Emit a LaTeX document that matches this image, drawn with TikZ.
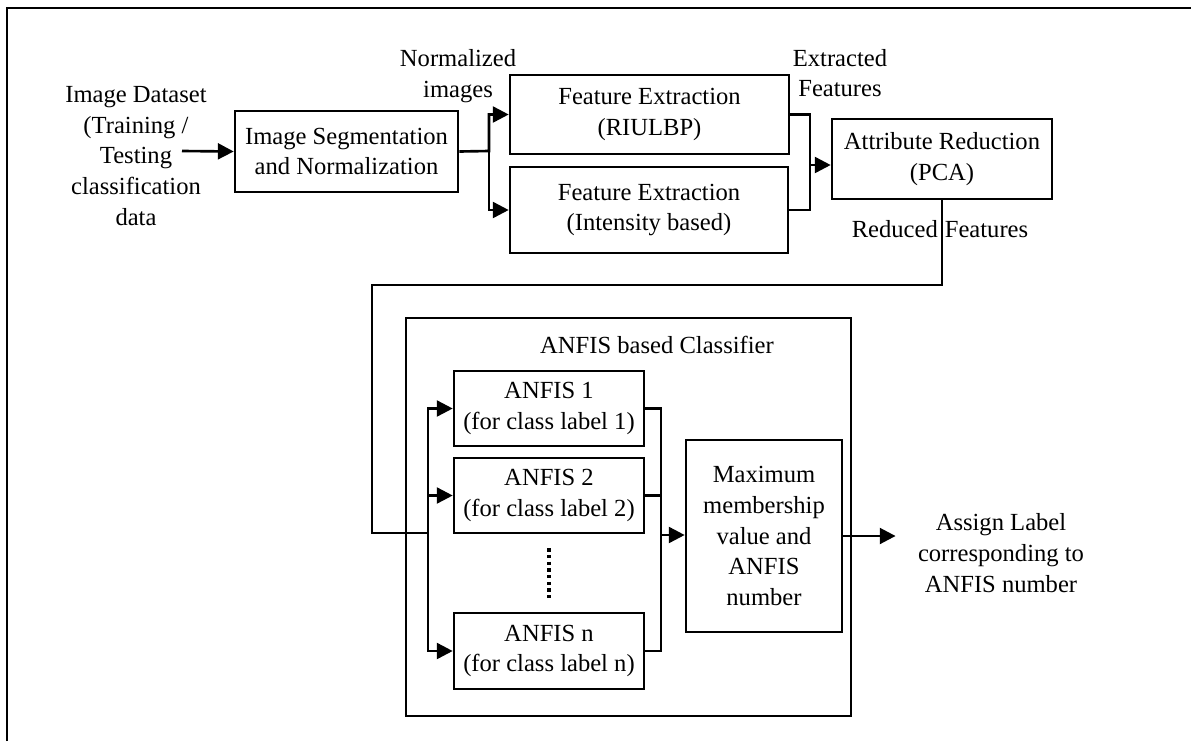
\documentclass[tikz,border=0pt]{standalone}
\usepackage{fontspec}
\setmainfont{Liberation Serif}
\usetikzlibrary{arrows.meta,positioning}

\begin{document}
\begin{tikzpicture}[x=0.02cm, y=-0.02cm, line width=1.5pt,
		font=\fontsize{14}{17.5}\selectfont,
		block/.style={draw, align=center, inner sep=0pt},
		lbl/.style={align=center, inner sep=2pt},
		arr/.style={-{Triangle[length=9pt,width=9pt]}}]
	\useasboundingbox (0,0) rectangle (1191,741);
	\draw[line width=1.6pt] (7,741) -- (7,8) -- (1191,8);
	% upper row
	\node[lbl] (data) at (136,156) {Image Dataset\\(Training /\\Testing\\classification\\data};
	\node[block, minimum width=4.46cm, minimum height=1.62cm] (seg) at (346.5,151.5) {Image Segmentation\\and Normalization};
	\node[block, minimum width=5.58cm, minimum height=1.58cm] (riulbp) at (649.5,114.5) {Feature Extraction\\(RIULBP)};
	\node[block, minimum width=5.56cm, minimum height=1.72cm] (inten) at (649,210) {Feature Extraction\\(Intensity based)};
	\node[block, minimum width=4.40cm, minimum height=1.60cm] (pca) at (942,159) {Attribute Reduction\\(PCA)};
	\node[lbl] (normimg) at (458,76) {Normalized\\images};
	\node[lbl] (extfeat) at (840,73) {Extracted\\Features};
	\node[lbl] (redfeat) at (940,229) {Reduced\hspace{4pt}Features};
	\coordinate (din) at (182,151);
	\coordinate (sp) at (489,151);
	\coordinate (fm) at (810,165);
	\draw[arr] (din) -- (seg.west);
	\draw[arr] (seg.east) -- (sp) |- (riulbp.west);
	\draw[arr] (sp) |- (inten.west);
	\draw (riulbp.east) -| (fm);
	\draw (inten.east) -| (fm);
	\draw[arr] (fm) -- (fm -| pca.west);
	% classifier
	\node[draw, minimum width=8.90cm, minimum height=7.96cm] (clf) at (628.5,517) {};
	\node[lbl] (clftitle) at (657,345) {ANFIS based Classifier};
	\node[block, minimum width=3.80cm, minimum height=1.50cm] (anfisA) at (549,408.5) {ANFIS 1\\(for class label 1)};
	\node[block, minimum width=3.80cm, minimum height=1.50cm] (anfisB) at (549,495.5) {ANFIS 2\\(for class label 2)};
	\node[block, minimum width=3.80cm, minimum height=1.52cm] (anfisN) at (549,651) {ANFIS n\\(for class label n)};
	\node[block, minimum width=3.12cm, minimum height=3.84cm] (maxm) at (764,536) {Maximum\\membership\\value and\\ANFIS\\number};
	\node[lbl, inner sep=12pt] (assign) at (1001,553) {Assign Label\\corresponding to\\ANFIS number};
	\coordinate (rf) at (372,285);
	\coordinate (cin) at (428,533);
	\coordinate (cout) at (661,535);
	\draw (pca.south) |- (rf) |- (cin);
	\foreach \a in {anfisA,anfisB,anfisN} {
		\draw[arr] (cin) |- (\a.west);
		\draw (\a.east) -| (cout);
	}
	\draw[arr] (cout) -- (cout -| maxm.west);
	\draw[dotted, line width=1.8pt, shorten <=8pt, shorten >=6pt] (anfisB.south) -- (anfisN.north);
	\draw[arr] (maxm.east) -- (maxm.east -| assign.west);
\end{tikzpicture}
\end{document}
